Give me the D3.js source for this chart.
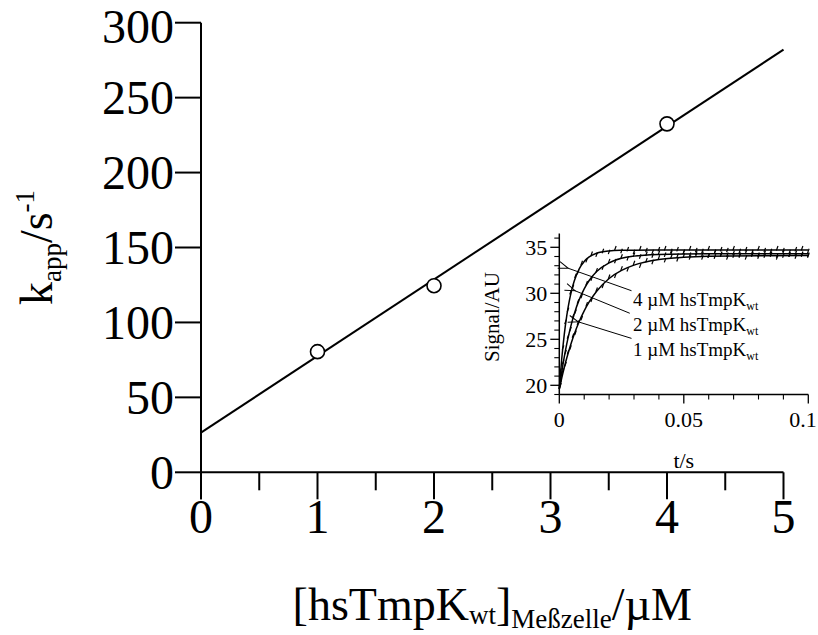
<!DOCTYPE html>
<html>
<head>
<meta charset="utf-8">
<script src="https://cdn.jsdelivr.net/npm/d3@7/dist/d3.min.js"></script>
<style>
  html, body { margin: 0; padding: 0; background: #fff; }
  svg { display: block; font-family: "Liberation Serif", "Times New Roman", serif; }
</style>
</head>
<body>
<svg id="chart" width="818" height="635"></svg>
<script>
// ---------- Main plot data ----------
const concentrations = [1, 2, 4];          // µM
const kappValues = [80.5, 124.5, 232.5];   // s^-1
const fitLineX = [0, 5];
const fitLineY = [26.5, 282];
const mainXTicks = [0, 1, 2, 3, 4, 5];
const mainXMinor = [0.5, 1.5, 2.5, 3.5, 4.5];
const mainYTicks = [0, 50, 100, 150, 200, 250, 300];

// ---------- Inset data (signal traces) ----------
const fitT = [0, 0.001, 0.002, 0.003, 0.004, 0.005, 0.006, 0.008, 0.010, 0.012, 0.015, 0.02, 0.025, 0.03, 0.04, 0.05, 0.06, 0.08, 0.1];
const fit4uM = [19.6, 22.94, 25.54, 27.57, 29.14, 30.37, 31.33, 32.66, 33.46, 33.95, 34.35, 34.60, 34.67, 34.69, 34.70, 34.70, 34.70, 34.70, 34.70];
const fit2uM = [19.6, 21.46, 23.08, 24.50, 25.73, 26.81, 27.76, 29.31, 30.49, 31.39, 32.36, 33.31, 33.80, 34.04, 34.23, 34.28, 34.29, 34.30, 34.30];
const fit1uM = [19.6, 20.82, 21.94, 22.96, 23.90, 24.76, 25.55, 26.93, 28.09, 29.06, 30.23, 31.61, 32.49, 33.06, 33.67, 33.92, 34.03, 34.09, 34.10];

const rawT = [0.0005, 0.0015, 0.0025, 0.0035, 0.0045, 0.0055, 0.0065, 0.0075, 0.009, 0.011, 0.013, 0.015,
  0.0175, 0.02, 0.0225, 0.025, 0.0275, 0.03, 0.0325, 0.035, 0.0375, 0.04, 0.0425, 0.045, 0.0475, 0.05,
  0.0525, 0.055, 0.0575, 0.06, 0.0625, 0.065, 0.0675, 0.07, 0.0725, 0.075, 0.0775, 0.08, 0.0825, 0.085,
  0.0875, 0.09, 0.0925, 0.095, 0.0975, 0.1];
const raw4uM = [21.6, 24.1, 26.9, 28.2, 30.1, 30.7, 31.9, 32.3, 33.3, 33.6, 34.3, 34.2,
  34.6, 34.5, 34.9, 34.6, 34.8, 34.5, 34.9, 34.7, 34.5, 34.8, 34.9, 34.6, 34.8, 34.5, 34.9, 34.7, 34.6, 34.9,
  34.5, 34.8, 34.7, 34.9, 34.6, 34.8, 34.5, 34.9, 34.7, 34.6, 34.9, 34.7, 34.5, 34.8, 34.9, 34.6];
const raw2uM = [20.3, 22.5, 23.6, 25.3, 26.1, 27.5, 28.0, 29.1, 29.7, 31.1, 31.6, 32.5,
  32.8, 33.5, 33.5, 34.0, 33.8, 34.2, 34.0, 34.3, 34.1, 34.4, 34.2, 34.4, 34.1, 34.5, 34.2, 34.4, 34.3, 34.1,
  34.5, 34.3, 34.2, 34.4, 34.1, 34.5, 34.3, 34.2, 34.4, 34.3, 34.1, 34.5, 34.2, 34.4, 34.3, 34.2];
const raw1uM = [20.0, 21.6, 22.3, 23.6, 24.1, 25.4, 25.7, 26.8, 27.3, 28.8, 29.3, 30.4,
  30.8, 31.8, 31.9, 32.7, 32.6, 33.3, 33.0, 33.6, 33.4, 33.9, 33.6, 34.0, 33.7, 34.1, 33.9, 34.2, 33.9, 34.1,
  34.0, 34.2, 33.9, 34.1, 34.2, 33.9, 34.2, 34.0, 34.1, 34.2, 33.9, 34.1, 34.2, 34.0, 34.2, 34.1];

const insetXTicks = [0, 0.05, 0.1];
const insetXTickLabels = ["0", "0.05", "0.1"];
const insetXMinor = [0.01, 0.02, 0.03, 0.04, 0.06, 0.07, 0.08, 0.09];
const insetYTicks = [20, 25, 30, 35];
const insetYMinor = [19, 21, 22, 23, 24, 26, 27, 28, 29, 31, 32, 33, 34, 36];

const seriesLabels = ["4 \u00B5M hsTmpK", "2 \u00B5M hsTmpK", "1 \u00B5M hsTmpK"];
// annotation anchors in inset data units
const annotLabelT = [0.0296, 0.0296, 0.0296];
const annotLabelV = [28.62, 25.9, 23.18];
const arrowTail = [[0.029, 30.28], [0.0283, 27.83], [0.029, 25.1]];
const arrowTip = [[0.0036, 32.72], [0.0063, 30.28], [0.0076, 26.9]];

// ---------- Drawing ----------
const svg = d3.select("#chart");
const black = "#000";
const tickFont = 48;

const x = d3.scaleLinear().domain([0, 5]).range([201, 783.5]);
const y = d3.scaleLinear().domain([0, 300]).range([472.3, 22.7]);

// y axis
svg.append("line").attr("x1", x(0)).attr("x2", x(0)).attr("y1", y(300)).attr("y2", y(0) + 27)
  .attr("stroke", black).attr("stroke-width", 2);
const gy = svg.append("g");
gy.selectAll("line").data(mainYTicks).join("line")
  .attr("x1", x(0) - 26).attr("x2", x(0)).attr("y1", d => y(d)).attr("y2", d => y(d))
  .attr("stroke", black).attr("stroke-width", 2);
gy.selectAll("text").data(mainYTicks).join("text")
  .attr("x", x(0) - 27)
  .attr("y", d => Math.max(y(d) + 0.34 * tickFont, 0.9 * tickFont))
  .attr("text-anchor", "end").attr("font-size", tickFont).text(d => d);

// x axis
svg.append("line").attr("x1", x(0)).attr("x2", x(5)).attr("y1", y(0)).attr("y2", y(0))
  .attr("stroke", black).attr("stroke-width", 2);
const gx = svg.append("g");
gx.selectAll("line.maj").data(mainXTicks).join("line").attr("class", "maj")
  .attr("x1", d => x(d)).attr("x2", d => x(d)).attr("y1", y(0)).attr("y2", y(0) + 27)
  .attr("stroke", black).attr("stroke-width", 2);
gx.selectAll("line.min").data(mainXMinor).join("line").attr("class", "min")
  .attr("x1", d => x(d)).attr("x2", d => x(d)).attr("y1", y(0)).attr("y2", y(0) + 18)
  .attr("stroke", black).attr("stroke-width", 2);
gx.selectAll("text").data(mainXTicks).join("text")
  .attr("x", d => x(d)).attr("y", 533)
  .attr("text-anchor", "middle").attr("font-size", tickFont).text(d => d);

// fit line
svg.append("path")
  .datum(fitLineX.map((v, i) => [v, fitLineY[i]]))
  .attr("d", d3.line().x(d => x(d[0])).y(d => y(d[1])))
  .attr("fill", "none").attr("stroke", black).attr("stroke-width", 2);

// data points
svg.selectAll("circle.pt").data(concentrations.map((c, i) => [c, kappValues[i]])).join("circle")
  .attr("class", "pt").attr("cx", d => x(d[0])).attr("cy", d => y(d[1])).attr("r", 7)
  .attr("fill", "#fff").attr("stroke", black).attr("stroke-width", 1.6);

// axis titles
const yt = svg.append("text").attr("transform", `translate(52,${(y(0) + y(300)) / 2}) rotate(-90)`)
  .attr("text-anchor", "middle").attr("font-size", 46);
yt.append("tspan").text("k");
yt.append("tspan").attr("font-size", 27).attr("dy", 9).text("app");
yt.append("tspan").attr("dy", -9).text("/s");
yt.append("tspan").attr("font-size", 27).attr("dy", -18).text("-1");

const xt = svg.append("text").attr("x", (x(0) + x(5)) / 2).attr("y", 620)
  .attr("text-anchor", "middle").attr("font-size", 46);
xt.append("tspan").text("[hsTmpK");
xt.append("tspan").attr("font-size", 27).attr("dy", 4).text("wt");
xt.append("tspan").attr("dy", -4).text("]");
xt.append("tspan").attr("font-size", 27).attr("dy", 8).text("Meßzelle");
xt.append("tspan").attr("dy", -8).text("/\u00B5M");

// ---------- Inset ----------
const ix = d3.scaleLinear().domain([0, 0.1]).range([559.3, 808.3]);
const iy = d3.scaleLinear().domain([19, 36.5]).range([394.5, 233.5]);
const ins = svg.append("g");

ins.append("line").attr("x1", ix(0)).attr("x2", ix(0)).attr("y1", iy(36.5)).attr("y2", iy(19))
  .attr("stroke", black).attr("stroke-width", 1.5);
ins.append("line").attr("x1", ix(0)).attr("x2", ix(0.1)).attr("y1", iy(19)).attr("y2", iy(19))
  .attr("stroke", black).attr("stroke-width", 1.5);

ins.selectAll("line.iym").data(insetYTicks).join("line").attr("class", "iym")
  .attr("x1", ix(0) - 9).attr("x2", ix(0)).attr("y1", d => iy(d)).attr("y2", d => iy(d))
  .attr("stroke", black).attr("stroke-width", 1.3);
ins.selectAll("line.iyn").data(insetYMinor).join("line").attr("class", "iyn")
  .attr("x1", ix(0) - 5).attr("x2", ix(0)).attr("y1", d => iy(d)).attr("y2", d => iy(d))
  .attr("stroke", black).attr("stroke-width", 1.1);
ins.selectAll("text.iyl").data(insetYTicks).join("text").attr("class", "iyl")
  .attr("x", ix(0) - 12).attr("y", d => iy(d)).attr("dy", "0.34em")
  .attr("text-anchor", "end").attr("font-size", 22).text(d => d);

ins.selectAll("line.ixm").data(insetXTicks).join("line").attr("class", "ixm")
  .attr("x1", d => ix(d)).attr("x2", d => ix(d)).attr("y1", iy(19)).attr("y2", iy(19) + 9)
  .attr("stroke", black).attr("stroke-width", 1.3);
ins.selectAll("line.ixn").data(insetXMinor).join("line").attr("class", "ixn")
  .attr("x1", d => ix(d)).attr("x2", d => ix(d)).attr("y1", iy(19)).attr("y2", iy(19) + 5)
  .attr("stroke", black).attr("stroke-width", 1.1);
ins.selectAll("text.ixl").data(insetXTicks).join("text").attr("class", "ixl")
  .attr("x", d => Math.min(ix(d), 803)).attr("y", 427)
  .attr("text-anchor", "middle").attr("font-size", 22).text((d, i) => insetXTickLabels[i]);

ins.append("text").attr("transform", `translate(499,${(iy(19) + iy(36.5)) / 2 + 3}) rotate(-90)`)
  .attr("text-anchor", "middle").attr("font-size", 21).text("Signal/AU");
ins.append("text").attr("x", ix(0.05)).attr("y", 468)
  .attr("text-anchor", "middle").attr("font-size", 22).text("t/s");

// raw traces as small tick marks
[raw4uM, raw2uM, raw1uM].forEach(series => {
  ins.append("g").selectAll("line").data(rawT.map((t, i) => [t, series[i]])).join("line")
    .attr("x1", d => ix(d[0]) - 0.8).attr("x2", d => ix(d[0]) + 0.8)
    .attr("y1", d => iy(d[1]) + 2.2).attr("y2", d => iy(d[1]) - 2.2)
    .attr("stroke", black).attr("stroke-width", 1.2);
});

// fitted curves
const iline = d3.line().x(d => ix(d[0])).y(d => iy(d[1])).curve(d3.curveMonotoneX);
[fit4uM, fit2uM, fit1uM].forEach(series => {
  ins.append("path").datum(fitT.map((t, i) => [t, series[i]]))
    .attr("d", iline).attr("fill", "none").attr("stroke", black).attr("stroke-width", 1.5);
});

// annotations
const defs = svg.append("defs");
defs.append("marker").attr("id", "arr").attr("viewBox", "-1 -5 12 10")
  .attr("refX", 0).attr("refY", 0).attr("markerWidth", 12).attr("markerHeight", 10)
  .attr("markerUnits", "userSpaceOnUse").attr("orient", "auto-start-reverse")
  .append("path").attr("d", "M10,-3.5 L0,0 L10,3.5").attr("fill", "none").attr("stroke", black).attr("stroke-width", 1);

seriesLabels.forEach((lab, i) => {
  ins.append("line")
    .attr("x1", ix(arrowTail[i][0])).attr("y1", iy(arrowTail[i][1]))
    .attr("x2", ix(arrowTip[i][0])).attr("y2", iy(arrowTip[i][1]))
    .attr("stroke", black).attr("stroke-width", 1)
    .attr("marker-end", "url(#arr)");
  const t = ins.append("text").attr("x", ix(annotLabelT[i])).attr("y", iy(annotLabelV[i]))
    .attr("font-size", 19);
  t.append("tspan").text(lab);
  t.append("tspan").attr("font-size", 12).attr("dy", 4).text("wt");
});
</script>
</body>
</html>
